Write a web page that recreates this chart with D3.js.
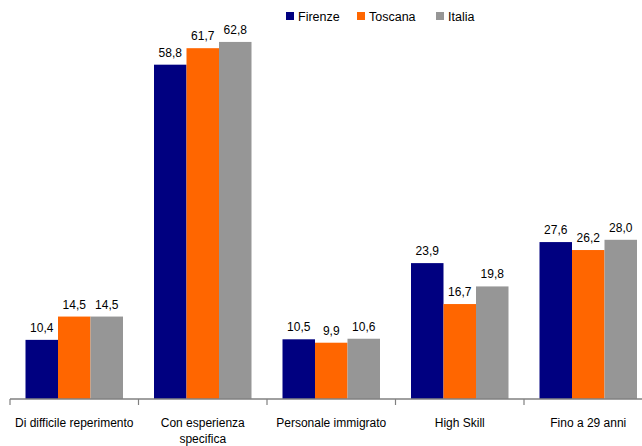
<!DOCTYPE html>
<html>
<head>
<meta charset="utf-8">
<script src="https://cdn.jsdelivr.net/npm/d3@7"></script>
<style>
  body { margin: 0; background: #fff; }
  text { font-family: "Liberation Sans", Arial, sans-serif; }
</style>
</head>
<body>
<div id="chart"></div>
<script>
// chart data
let categories = ["Di difficile reperimento", "Con esperienza specifica", "Personale immigrato", "High Skill", "Fino a 29 anni"];
let seriesNames = ["Firenze", "Toscana", "Italia"];
let firenze = [10.4, 58.8, 10.5, 23.9, 27.6];
let toscana = [14.5, 61.7, 9.9, 16.7, 26.2];
let italia = [14.5, 62.8, 10.6, 19.8, 28.0];
let colors = ["#000080", "#ff6600", "#969696"];

let svgWidth = 642;
let svgHeight = 446;

let svg = d3.select("#chart")
  .append("svg")
  .attr("width", svgWidth)
  .attr("height", svgHeight);

let baseY = 399;

// category slots, ticks sit on the slot edges
let x0 = d3.scaleBand()
  .domain(categories)
  .range([10, 652.5])
  .padding(0);

let x1 = d3.scaleBand()
  .domain(seriesNames)
  .range([0, x0.bandwidth()])
  .paddingInner(0)
  .paddingOuter(0.477);

let y = d3.scaleLinear()
  .domain([0, 70])
  .range([baseY, 1]);

let it = d3.formatLocale({ decimal: ",", thousands: ".", grouping: [3], currency: ["", "€"] });
let fmt = it.format(".1f");

let allSeries = [firenze, toscana, italia];
let rows = categories.map((c, i) => ({
  cat: c,
  vals: seriesNames.map((s, j) => ({ name: s, value: allSeries[j][i], color: colors[j] }))
}));

let groups = svg.selectAll("g.group")
  .data(rows)
  .enter()
  .append("g")
  .attr("class", "group")
  .attr("transform", d => `translate(${x0(d.cat)},0)`);

groups.selectAll("rect")
  .data(d => d.vals)
  .enter()
  .append("rect")
  .attr("x", d => x1(d.name))
  .attr("y", d => y(d.value))
  .attr("width", x1.bandwidth())
  .attr("height", d => baseY - y(d.value))
  .attr("fill", d => d.color);

groups.selectAll("text.val")
  .data(d => d.vals)
  .enter()
  .append("text")
  .attr("class", "val")
  .attr("x", d => x1(d.name) + x1.bandwidth() / 2)
  .attr("y", d => y(d.value) - 8)
  .attr("text-anchor", "middle")
  .attr("font-size", "12px")
  .attr("fill", "#000")
  .text(d => fmt(d.value));

// x axis
let xAxis = svg.append("g")
  .attr("transform", `translate(0, ${baseY})`);

xAxis.append("line")
  .attr("x1", 10)
  .attr("x2", svgWidth)
  .attr("stroke", "#808080")
  .attr("stroke-width", 1.5);

xAxis.selectAll("line.tick")
  .data(categories)
  .enter()
  .append("line")
  .attr("class", "tick")
  .attr("x1", d => x0(d))
  .attr("x2", d => x0(d))
  .attr("y1", 0)
  .attr("y2", 6)
  .attr("stroke", "#808080")
  .attr("stroke-width", 1.2);

// category labels, wrapped like the original
let wrapped = {
  "Con esperienza specifica": ["Con esperienza", "specifica"]
};

xAxis.selectAll("text.cat")
  .data(categories)
  .enter()
  .append("text")
  .attr("class", "cat")
  .attr("x", d => x0(d) + x0.bandwidth() / 2)
  .attr("y", 28)
  .attr("text-anchor", "middle")
  .attr("font-size", "12px")
  .attr("fill", "#000")
  .each(function(d) {
    let lines = wrapped[d] || [d];
    let t = d3.select(this);
    lines.forEach((l, i) => {
      t.append("tspan")
        .attr("x", x0(d) + x0.bandwidth() / 2)
        .attr("dy", i === 0 ? 0 : 16)
        .text(l);
    });
  });

// legend
let legendX = [286, 357, 436];
let legend = svg.append("g");

legend.selectAll("rect")
  .data(seriesNames)
  .enter()
  .append("rect")
  .attr("x", (d, i) => legendX[i])
  .attr("y", 12)
  .attr("width", 8)
  .attr("height", 8)
  .attr("fill", (d, i) => colors[i]);

legend.selectAll("text")
  .data(seriesNames)
  .enter()
  .append("text")
  .attr("x", (d, i) => legendX[i] + 12)
  .attr("y", 20.5)
  .attr("font-size", "12.5px")
  .attr("fill", "#000")
  .text(d => d);
</script>
</body>
</html>
